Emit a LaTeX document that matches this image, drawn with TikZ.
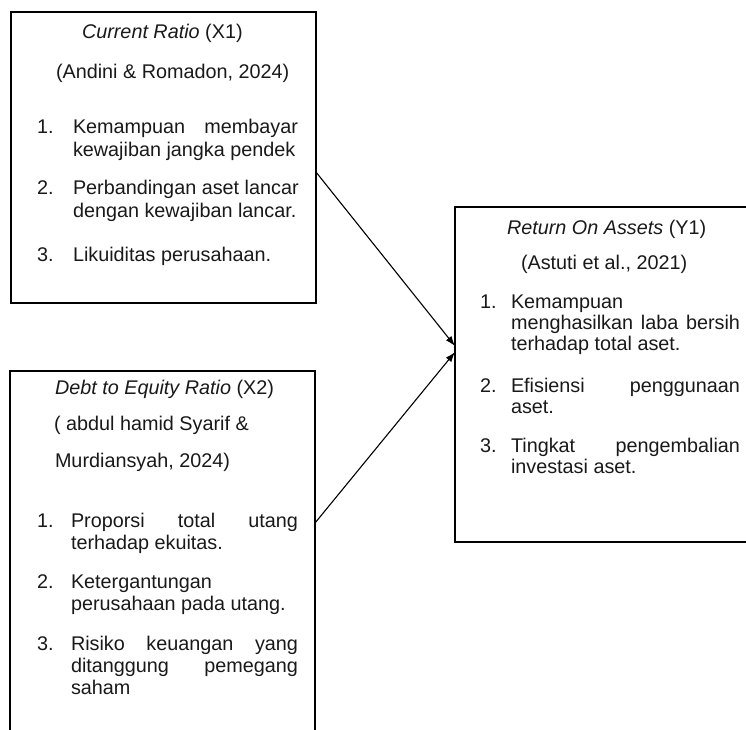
\documentclass[tikz,border=0pt]{standalone}
\usepackage{fontspec}
\setmainfont{Liberation Sans}
\usetikzlibrary{arrows.meta,calc}
\newcommand\tline[4]{\node[txt] (#1) at (#2,#3) {#4};}
\newcommand\jline[5]{\node[txt] (#1) at (#2,#3) {\makebox[#4pt][s]{#5}};}
\begin{document}
\begin{tikzpicture}[x=1pt,y=-1pt,
  txt/.style={anchor=base west,inner sep=0pt,outer sep=0pt,font=\fontsize{19.8}{22}\selectfont,text=black!90},
  boxx/.style={draw=black,line width=1.2pt,anchor=north west,inner sep=0pt,outer sep=0pt},
  arr/.style={line width=1.1pt,-{Latex[length=10pt,width=7pt]}}]
\useasboundingbox (0,0) rectangle (746,729);
\clip (0,0) rectangle (746,729);
% boxes
\node[boxx,minimum width=305pt,minimum height=291pt] (box1) at (11,12) {};
\node[boxx,minimum width=305pt,minimum height=400pt] (box2) at (10,371) {};
\node[boxx,minimum width=330pt,minimum height=335pt] (box3) at (455,207) {};
% box 1 text
\tline{h1a}{82}{38}{\textit{Current Ratio} (X1)}
\tline{h1b}{56}{78}{(Andini \& Romadon, 2024)}
\tline{n11}{37}{133}{1.}
\jline{l11}{73}{133}{225}{Kemampuan membayar}
\tline{l12}{73}{156}{kewajiban jangka pendek}
\tline{n12}{37}{194}{2.}
\tline{l13}{73}{194}{Perbandingan aset lancar}
\tline{l14}{73}{217}{dengan kewajiban lancar.}
\tline{n13}{37}{261}{3.}
\tline{l15}{73}{261}{Likuiditas perusahaan.}
% box 2 text
\tline{h2a}{55}{394}{\textit{Debt to Equity Ratio} (X2)}
\tline{h2b}{54}{430}{( abdul hamid Syarif \&}
\tline{h2c}{55}{467}{Murdiansyah, 2024)}
\tline{n21}{37}{527}{1.}
\jline{l21}{71}{527}{227}{Proporsi total utang}
\tline{l22}{71}{549}{terhadap ekuitas.}
\tline{n22}{37}{588}{2.}
\tline{l23}{71}{588}{Ketergantungan}
\tline{l24}{71}{610}{perusahaan pada utang.}
\tline{n23}{37}{650}{3.}
\jline{l25}{71}{650}{227}{Risiko keuangan yang}
\jline{l26}{71}{672}{227}{ditanggung pemegang}
\tline{l27}{71}{694}{saham}
% box 3 text
\tline{h3a}{507}{234}{\textit{Return On Assets} (Y1)}
\tline{h3b}{521}{269}{(Astuti et al., 2021)}
\tline{n31}{480}{308}{1.}
\tline{l31}{511}{308}{Kemampuan}
\jline{l32}{511}{329}{229}{menghasilkan laba bersih}
\tline{l33}{511}{350}{terhadap total aset.}
\tline{n32}{480}{392}{2.}
\jline{l34}{511}{392}{229}{Efisiensi penggunaan}
\tline{l35}{511}{413}{aset.}
\tline{n33}{480}{452}{3.}
\jline{l36}{511}{452}{229}{Tingkat pengembalian}
\tline{l37}{511}{473}{investasi aset.}
% connectors
\coordinate (s1) at ($(box1.north east)!0.55!(box1.south east)$);
\coordinate (s2) at ($(box2.north east)!0.38!(box2.south east)$);
\coordinate (e1) at ($(box3.north west)!0.415!(box3.south west)$);
\coordinate (e2) at ($(box3.north west)!0.433!(box3.south west)$);
\draw[arr] (s1) -- (e1);
\draw[arr] (s2) -- (e2);
\end{tikzpicture}
\end{document}
